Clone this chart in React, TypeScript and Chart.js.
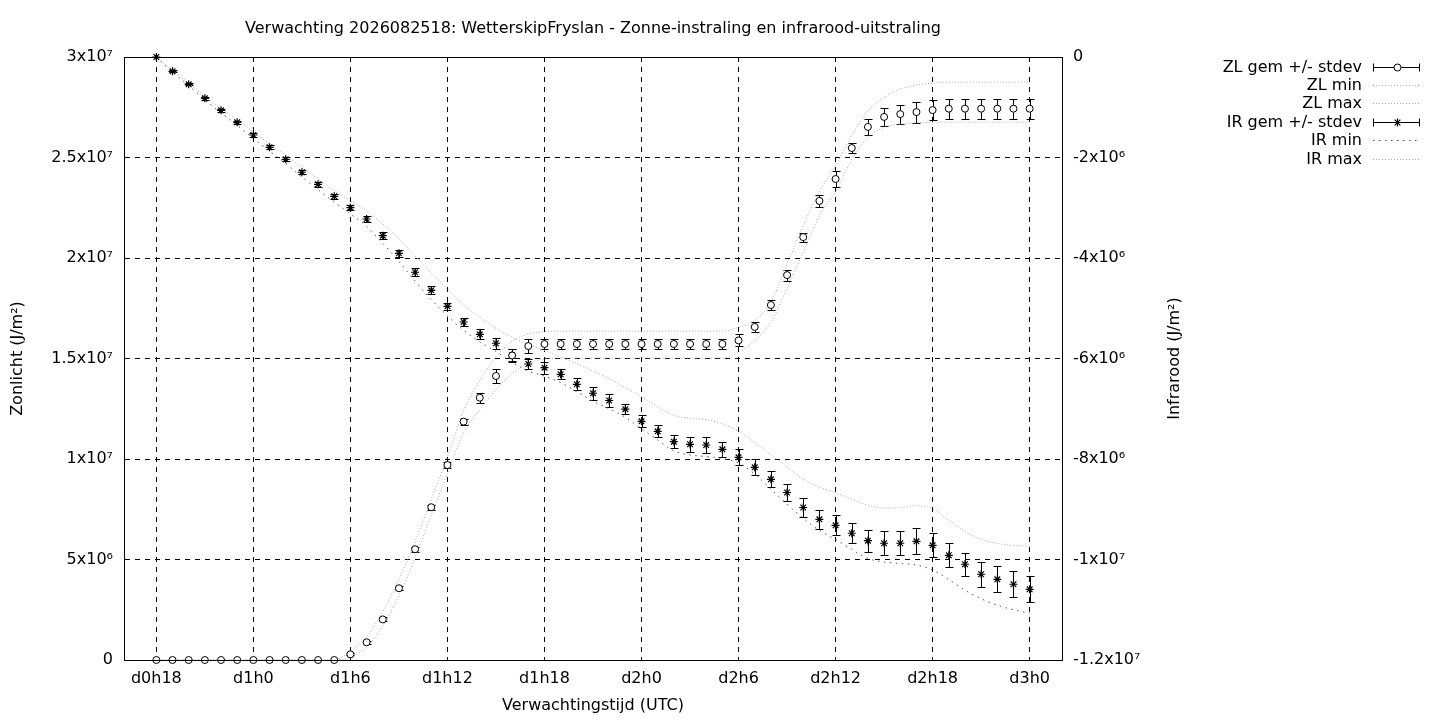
import { useEffect, useRef } from "react";
import { Chart, registerables, Plugin } from "chart.js";

Chart.register(...registerables);

// hourly forecast steps (UTC)
const times = [
  "d0h18", "d0h19", "d0h20", "d0h21", "d0h22", "d0h23",
  "d1h0", "d1h1", "d1h2", "d1h3", "d1h4", "d1h5", "d1h6", "d1h7", "d1h8", "d1h9", "d1h10", "d1h11",
  "d1h12", "d1h13", "d1h14", "d1h15", "d1h16", "d1h17", "d1h18", "d1h19", "d1h20", "d1h21", "d1h22", "d1h23",
  "d2h0", "d2h1", "d2h2", "d2h3", "d2h4", "d2h5", "d2h6", "d2h7", "d2h8", "d2h9", "d2h10", "d2h11",
  "d2h12", "d2h13", "d2h14", "d2h15", "d2h16", "d2h17", "d2h18", "d2h19", "d2h20", "d2h21", "d2h22", "d2h23",
  "d3h0",
];
const xTickSteps = [0, 6, 12, 18, 24, 30, 36, 42, 48, 54];

// left axis, units of 10^6 J/m2
const zlTicks = [0, 5, 10, 15, 20, 25, 30];
const zlTickLabels = ["0", "5x10⁶", "1x10⁷", "1.5x10⁷", "2x10⁷", "2.5x10⁷", "3x10⁷"];
// right axis, units of 10^6 J/m2
const irTicks = [-12, -10, -8, -6, -4, -2, 0];
const irTickLabels = ["-1.2x10⁷", "-1x10⁷", "-8x10⁶", "-6x10⁶", "-4x10⁶", "-2x10⁶", "0"];

const zlMean = [
  0, 0, 0, 0, 0, 0, 0, 0, 0, 0, 0, 0,
  0.28, 0.88, 2.02, 3.57, 5.51, 7.6, 9.7, 11.86, 13.05, 14.13, 15.15, 15.62,
  15.72, 15.72, 15.72, 15.72, 15.72, 15.72, 15.72, 15.72, 15.72, 15.72, 15.72, 15.72,
  15.9, 16.57, 17.66, 19.15, 21.04, 22.84, 23.93, 25.47, 26.52, 27.02, 27.16, 27.26, 27.36,
  27.43, 27.43, 27.43, 27.43, 27.43, 27.43,
];
const zlStdev = [
  0, 0, 0, 0, 0, 0, 0, 0, 0, 0, 0, 0,
  0.05, 0.08, 0.1, 0.1, 0.12, 0.12, 0.15, 0.15, 0.25, 0.33, 0.3, 0.33,
  0.27, 0.27, 0.27, 0.27, 0.27, 0.27, 0.27, 0.27, 0.27, 0.27, 0.27, 0.27,
  0.3, 0.27, 0.27, 0.27, 0.22, 0.3, 0.4, 0.27, 0.39, 0.43, 0.47, 0.52, 0.5,
  0.5, 0.5, 0.5, 0.5, 0.5, 0.5,
];
const zlMin = [
  0, 0, 0, 0, 0, 0, 0, 0, 0, 0, 0, 0,
  0.12, 0.65, 1.7, 3.2, 5.1, 7.2, 9.3, 11.3, 12.45, 13.45, 14.25, 14.75,
  14.98, 15.02, 15.02, 15.02, 15.02, 15.02, 15.02, 15.02, 15.02, 15.02, 15.02, 15.02,
  15.3, 15.9, 16.8, 18.5, 20.3, 22.1, 23.3, 24.9, 26.0, 26.5, 26.65, 26.72, 26.75,
  26.76, 26.76, 26.76, 26.76, 26.76, 26.76,
];
const zlMax = [
  0, 0, 0, 0, 0, 0, 0, 0, 0, 0, 0, 0,
  0.45, 1.15, 2.4, 4.0, 5.9, 8.0, 10.1, 12.4, 13.9, 15.1, 15.85, 16.22,
  16.33, 16.36, 16.36, 16.36, 16.36, 16.36, 16.36, 16.36, 16.36, 16.36, 16.36, 16.36,
  16.55, 16.9, 17.8, 19.7, 21.6, 23.3, 24.6, 26.1, 27.3, 28.0, 28.4, 28.6, 28.7,
  28.75, 28.75, 28.75, 28.75, 28.75, 28.75,
];

const irMean = [
  0, -0.285, -0.543, -0.822, -1.061, -1.3, -1.552, -1.797, -2.036, -2.294, -2.533, -2.772,
  -2.999, -3.224, -3.556, -3.906, -4.284, -4.643, -4.961, -5.274, -5.518, -5.697, -5.936, -6.109,
  -6.183, -6.314, -6.513, -6.692, -6.836, -7.009, -7.25, -7.449, -7.655, -7.707, -7.721, -7.807,
  -7.966, -8.165, -8.404, -8.667, -8.965, -9.2, -9.319, -9.478, -9.626, -9.677, -9.677, -9.638,
  -9.717, -9.916, -10.095, -10.294, -10.394, -10.493, -10.593,
];
const irStdev = [
  0, 0.02, 0.02, 0.03, 0.03, 0.03, 0.04, 0.04, 0.04, 0.04, 0.05, 0.05,
  0.05, 0.06, 0.07, 0.07, 0.08, 0.08, 0.07, 0.08, 0.1, 0.11, 0.12, 0.1,
  0.12, 0.1, 0.12, 0.13, 0.12, 0.1, 0.12, 0.12, 0.13, 0.15, 0.15, 0.15,
  0.16, 0.16, 0.16, 0.16, 0.18, 0.19, 0.2, 0.2, 0.22, 0.24, 0.24, 0.26,
  0.24, 0.24, 0.23, 0.25, 0.26, 0.26, 0.26,
];
const irMin = [
  0, -0.3, -0.57, -0.86, -1.11, -1.36, -1.62, -1.87, -2.12, -2.39, -2.64, -2.89,
  -3.12, -3.37, -3.71, -4.07, -4.46, -4.83, -5.15, -5.44, -5.67, -5.86, -6.08, -6.25,
  -6.35, -6.48, -6.66, -6.85, -7.0, -7.17, -7.4, -7.62, -7.84, -7.92, -7.95, -7.99,
  -8.08, -8.3, -8.6, -8.9, -9.18, -9.42, -9.6, -9.8, -9.98, -10.05, -10.08, -10.11,
  -10.21, -10.4, -10.61, -10.78, -10.91, -11.0, -11.07,
];
const irMax = [
  0, -0.27, -0.52, -0.79, -1.02, -1.25, -1.49, -1.73, -1.96, -2.2, -2.43, -2.66,
  -2.86, -3.06, -3.32, -3.62, -3.96, -4.3, -4.62, -4.93, -5.18, -5.4, -5.58, -5.72,
  -5.84, -5.97, -6.1, -6.25, -6.4, -6.58, -6.76, -6.96, -7.13, -7.19, -7.22, -7.3,
  -7.45, -7.67, -7.92, -8.16, -8.4, -8.56, -8.67, -8.8, -8.92, -8.98, -8.97, -8.93,
  -8.98, -9.22, -9.44, -9.6, -9.68, -9.72, -9.73,
];

const FONT = "'DejaVu Sans', sans-serif";
const FONT_SIZE = 16;
const CAP = 4;
const STAR_R = 4;

const toPoints = (vals: number[]) => vals.map((v, i) => ({ x: i, y: v }));

// vertical error bars with caps, drawn under the markers
const errorBars: Plugin<"line"> = {
  id: "errorBars",
  beforeDatasetsDraw(chart) {
    const { ctx } = chart;
    const xs = chart.scales.x;
    chart.data.datasets.forEach((ds: any) => {
      if (!ds.stdev) return;
      const ys = chart.scales[ds.yAxisID];
      ctx.save();
      ctx.strokeStyle = "#000";
      ctx.lineWidth = 1;
      ds.data.forEach((p: { x: number; y: number }, j: number) => {
        const sd = ds.stdev[j];
        if (!sd) return;
        const px = Math.round(xs.getPixelForValue(p.x)) + 0.5;
        const top = Math.round(ys.getPixelForValue(p.y + sd)) + 0.5;
        const bot = Math.round(ys.getPixelForValue(p.y - sd)) + 0.5;
        ctx.beginPath();
        ctx.moveTo(px, top);
        ctx.lineTo(px, bot);
        ctx.moveTo(px - CAP, top);
        ctx.lineTo(px + CAP, top);
        ctx.moveTo(px - CAP, bot);
        ctx.lineTo(px + CAP, bot);
        ctx.stroke();
      });
      ctx.restore();
    });
  },
};

// frame, right axis title (reading upwards, like gnuplot) and the key on the right
const decorations: Plugin<"line"> = {
  id: "decorations",
  afterDraw(chart) {
    const { ctx, chartArea } = chart;
    ctx.save();
    ctx.strokeStyle = "#000";
    ctx.lineWidth = 1;
    ctx.setLineDash([]);
    const l = Math.round(chartArea.left) + 0.5;
    const t = Math.round(chartArea.top) + 0.5;
    const r = Math.round(chartArea.right) + 0.5;
    const b = Math.round(chartArea.bottom) + 0.5;
    ctx.strokeRect(l, t, r - l, b - t);

    ctx.fillStyle = "#000";
    ctx.font = `${FONT_SIZE}px ${FONT}`;
    ctx.textAlign = "center";
    ctx.textBaseline = "middle";
    ctx.save();
    ctx.translate(1175, (chartArea.top + chartArea.bottom) / 2);
    ctx.rotate(-Math.PI / 2);
    ctx.fillText("Infrarood (J/m²)", 0, 0);
    ctx.restore();

    const textRight = 1362;
    const s0 = 1373;
    const s1 = 1420;
    chart.data.datasets.forEach((ds: any, i) => {
      const y = Math.round(66.5 + i * 18.4) + 0.5;
      ctx.fillStyle = "#000";
      ctx.textAlign = "right";
      ctx.fillText(ds.label, textRight, y);
      ctx.beginPath();
      if (ds.stdev) {
        ctx.setLineDash([]);
        ctx.strokeStyle = "#000";
        ctx.moveTo(s0, y);
        ctx.lineTo(s1, y);
        ctx.moveTo(s0 + 0.5, y - CAP);
        ctx.lineTo(s0 + 0.5, y + CAP);
        ctx.moveTo(s1 - 0.5, y - CAP);
        ctx.lineTo(s1 - 0.5, y + CAP);
        ctx.stroke();
        const cx = Math.round((s0 + s1) / 2) + 0.5;
        if (ds.pointStyle === "circle") {
          ctx.beginPath();
          ctx.arc(cx, y, 3.5, 0, Math.PI * 2);
          ctx.fillStyle = "#fff";
          ctx.fill();
          ctx.stroke();
        } else {
          const rr = STAR_R;
          const d = rr * Math.SQRT1_2;
          ctx.lineWidth = 1.2;
          ctx.beginPath();
          ctx.moveTo(cx, y - rr);
          ctx.lineTo(cx, y + rr);
          ctx.moveTo(cx - rr, y);
          ctx.lineTo(cx + rr, y);
          ctx.moveTo(cx - d, y - d);
          ctx.lineTo(cx + d, y + d);
          ctx.moveTo(cx - d, y + d);
          ctx.lineTo(cx + d, y - d);
          ctx.stroke();
          ctx.lineWidth = 1;
        }
      } else {
        ctx.setLineDash(ds.borderDash);
        ctx.strokeStyle = ds.borderColor;
        ctx.moveTo(s0, y);
        ctx.lineTo(s1, y);
        ctx.stroke();
      }
    });
    ctx.restore();
  },
};

export default function App() {
  const canvasRef = useRef<HTMLCanvasElement>(null);
  const chartRef = useRef<Chart | null>(null);

  useEffect(() => {
    if (!canvasRef.current) return;
    if (chartRef.current) chartRef.current.destroy();

    Chart.defaults.font.family = FONT;
    Chart.defaults.font.size = FONT_SIZE;
    Chart.defaults.color = "#000";

    const lineStyle = (color: string, dash: number[]) => ({
      showLine: true,
      borderColor: color,
      borderWidth: 1,
      borderDash: dash,
      pointRadius: 0,
      pointHoverRadius: 0,
      cubicInterpolationMode: "monotone" as const,
      clip: false as const,
    });

    chartRef.current = new Chart(canvasRef.current, {
      type: "line",
      data: {
        datasets: [
          {
            label: "ZL gem +/- stdev",
            data: toPoints(zlMean),
            yAxisID: "zl",
            showLine: false,
            pointStyle: "circle",
            pointRadius: 3.5,
            pointBorderWidth: 1,
            pointBorderColor: "#000",
            pointBackgroundColor: "#fff",
            clip: false,
            stdev: zlStdev,
          } as any,
          { label: "ZL min", data: toPoints(zlMin), yAxisID: "zl", ...lineStyle("#a8a8a8", [1, 2]) },
          { label: "ZL max", data: toPoints(zlMax), yAxisID: "zl", ...lineStyle("#a8a8a8", [1, 2]) },
          {
            label: "IR gem +/- stdev",
            data: toPoints(irMean),
            yAxisID: "ir",
            showLine: false,
            pointStyle: "star",
            pointRadius: STAR_R,
            pointBorderWidth: 1.2,
            pointBorderColor: "#000",
            pointBackgroundColor: "#000",
            clip: false,
            stdev: irStdev,
          } as any,
          { label: "IR min", data: toPoints(irMin), yAxisID: "ir", ...lineStyle("#555555", [1.5, 4.5]) },
          { label: "IR max", data: toPoints(irMax), yAxisID: "ir", ...lineStyle("#a8a8a8", [1, 2]) },
        ],
      },
      options: {
        responsive: false,
        animation: false,
        layout: { padding: { left: 0, right: 248, top: 0, bottom: 0 } },
        plugins: {
          legend: { display: false },
          tooltip: { enabled: false },
          title: {
            display: true,
            fullSize: false,
            text: "Verwachting 2026082518: WetterskipFryslan - Zonne-instraling en infrarood-uitstraling",
            font: { size: FONT_SIZE, weight: "normal" },
            color: "#000",
            padding: { top: 19.4, bottom: 18.4 },
          },
        },
        scales: {
          x: {
            type: "linear",
            min: -2,
            max: 56,
            afterBuildTicks: (s) => {
              s.ticks = xTickSteps.map((v) => ({ value: v }));
            },
            afterFit: (s) => {
              s.height = 60;
            },
            ticks: {
              callback: (v) => times[v as number],
              padding: 9,
              maxRotation: 0,
              autoSkip: false,
            },
            grid: { color: "#000", lineWidth: 1, drawTicks: false },
            border: { display: true, color: "#000", dash: [5, 5] },
            title: {
              display: true,
              text: "Verwachtingstijd (UTC)",
              padding: { top: 0, bottom: 4.4 },
            },
          },
          zl: {
            type: "linear",
            position: "left",
            min: 0,
            max: 30,
            afterBuildTicks: (s) => {
              s.ticks = zlTicks.map((v) => ({ value: v }));
            },
            afterFit: (s) => {
              s.width = 124;
            },
            ticks: {
              callback: (v) => zlTickLabels[zlTicks.indexOf(v as number)],
              padding: 11,
            },
            grid: { color: "#000", lineWidth: 1, drawTicks: false },
            border: { display: true, color: "#000", dash: [5, 5] },
            title: {
              display: true,
              text: "Zonlicht (J/m²)",
              padding: { top: 8.4, bottom: 0 },
            },
          },
          ir: {
            type: "linear",
            position: "right",
            min: -12,
            max: 0,
            afterBuildTicks: (s) => {
              s.ticks = irTicks.map((v) => ({ value: v }));
            },
            afterFit: (s) => {
              s.width = 130;
            },
            ticks: {
              callback: (v) => irTickLabels[irTicks.indexOf(v as number)],
              padding: 11,
            },
            grid: { display: false, drawTicks: false },
            border: { display: true, color: "#000" },
          },
        },
      },
      plugins: [errorBars, decorations],
    });

    return () => {
      if (chartRef.current) {
        chartRef.current.destroy();
        chartRef.current = null;
      }
    };
  }, []);

  return (
    <div style={{ position: "fixed", left: 0, top: 0, width: 1440, height: 720, background: "#fff" }}>
      <canvas ref={canvasRef} width={1440} height={720} />
    </div>
  );
}
